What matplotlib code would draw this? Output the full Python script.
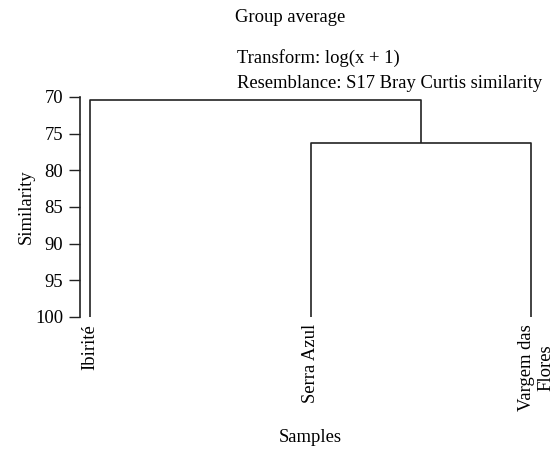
import matplotlib
matplotlib.use("Agg")
import matplotlib.pyplot as plt
import matplotlib.transforms as mtransforms

plt.rcParams['font.family'] = ['Liberation Serif', 'DejaVu Serif']

samples = ["Ibirité", "Serra Azul", "Vargem das\nFlores"]
merge_inner = 76.3   # Serra Azul + Vargem das Flores
merge_top = 70.4     # Ibirité + cluster
yticks = [70, 75, 80, 85, 90, 95, 100]

fs = 13.4
fig = plt.figure(figsize=(5.55, 4.54), dpi=100)
W, H = 555, 454
ax = fig.add_axes([80 / W, 1 - 317 / H, (548 - 80) / W, (317 - 97) / H])

lw = 1.2
c = "#222222"
x0, x1, x2 = 0, 1, 2
ax.plot([x1, x1, x2, x2], [100, merge_inner, merge_inner, 100], color=c, lw=lw, solid_capstyle='butt')
xm = (x1 + x2) / 2
ax.plot([x0, x0, xm, xm], [100, merge_top, merge_top, merge_inner], color=c, lw=lw, solid_capstyle='butt')

ax.set_ylim(100, 70)
ax.set_xlim(-10 / 220.5, 2 + 17 / 220.5)
ax.set_yticks(yticks)
ax.set_yticklabels([str(v) for v in yticks], fontsize=fs)
ax.set_xticks([x0, x1, x2])
ax.set_xticklabels(samples, rotation=90, fontsize=fs, va='top', ha='center')
ax.tick_params(axis='x', length=0, pad=5)
ax.tick_params(axis='y', length=8, width=1, color=c, pad=4)
lbl = ax.get_xticklabels()[2]
lbl.set_transform(lbl.get_transform() + mtransforms.ScaledTranslation(5 / 100, 0, fig.dpi_scale_trans))
for s in ['top', 'right', 'bottom']:
    ax.spines[s].set_visible(False)
ax.spines['left'].set_linewidth(1.2)
ax.spines['left'].set_color(c)
ax.set_ylabel("Similarity", fontsize=fs, labelpad=0)

fig.text(290 / W, 1 - 18 / H, "Group average", ha='center', va='center', fontsize=fs)
fig.text(237 / W, 1 - 58 / H, "Transform: log(x + 1)", ha='left', va='center', fontsize=fs)
fig.text(237 / W, 1 - 83 / H, "Resemblance: S17 Bray Curtis similarity", ha='left', va='center', fontsize=fs)
fig.text(310 / W, 1 - 438 / H, "Samples", ha='center', va='center', fontsize=fs)

fig.savefig("out.png", dpi=100)
